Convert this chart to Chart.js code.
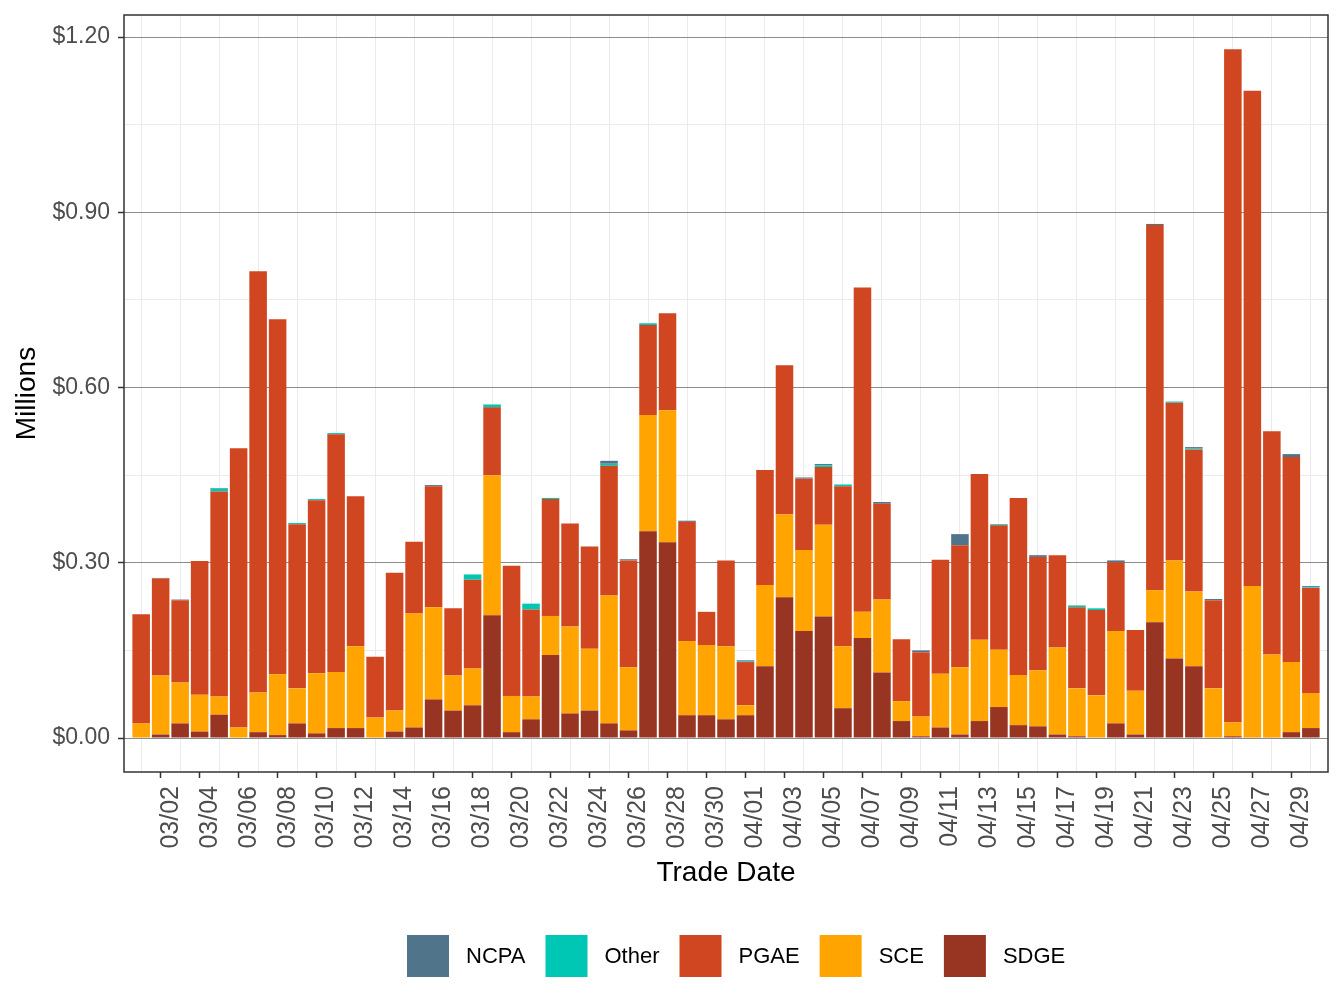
<!DOCTYPE html>
<html>
<head>
<meta charset="utf-8">
<title>Trade Date - Millions</title>
<script src="https://cdn.jsdelivr.net/npm/chart.js@4.4.1/dist/chart.umd.min.js"></script>
<style>
  html, body { margin: 0; padding: 0; background: #fff; }
  #wrap { width: 1344px; height: 1008px; position: relative; }
</style>
</head>
<body>
<div id="wrap"><canvas id="chart"></canvas></div>
<script>
// --- DATA (millions of $) ---
const dateLabels = [
  '03/01','03/02','03/03','03/04','03/05','03/06','03/07','03/08','03/09','03/10',
  '03/11','03/12','03/13','03/14','03/15','03/16','03/17','03/18','03/19','03/20',
  '03/21','03/22','03/23','03/24','03/25','03/26','03/27','03/28','03/29','03/30',
  '03/31','04/01','04/02','04/03','04/04','04/05','04/06','04/07','04/08','04/09',
  '04/10','04/11','04/12','04/13','04/14','04/15','04/16','04/17','04/18','04/19',
  '04/20','04/21','04/22','04/23','04/24','04/25','04/26','04/27','04/28','04/29',
  '04/30'
];

const sdge = [
  0.000, 0.006, 0.025, 0.011, 0.040, 0.000, 0.010, 0.005, 0.025, 0.008,
  0.017, 0.017, 0.000, 0.011, 0.018, 0.066, 0.047, 0.056, 0.210, 0.010,
  0.032, 0.142, 0.042, 0.047, 0.025, 0.013, 0.354, 0.335, 0.039, 0.039,
  0.032, 0.039, 0.123, 0.241, 0.183, 0.208, 0.051, 0.171, 0.112, 0.029,
  0.003, 0.018, 0.006, 0.029, 0.053, 0.022, 0.020, 0.006, 0.003, 0.001,
  0.025, 0.006, 0.198, 0.136, 0.123, 0.000, 0.003, 0.001, 0.001, 0.010,
  0.017
];
const sce = [
  0.025, 0.101, 0.070, 0.063, 0.031, 0.018, 0.068, 0.104, 0.060, 0.103,
  0.096, 0.140, 0.035, 0.036, 0.195, 0.158, 0.060, 0.063, 0.240, 0.062,
  0.039, 0.067, 0.149, 0.106, 0.219, 0.108, 0.199, 0.226, 0.127, 0.120,
  0.125, 0.017, 0.139, 0.142, 0.139, 0.157, 0.106, 0.045, 0.125, 0.034,
  0.034, 0.092, 0.115, 0.139, 0.098, 0.086, 0.096, 0.149, 0.082, 0.072,
  0.158, 0.075, 0.055, 0.168, 0.128, 0.085, 0.024, 0.259, 0.142, 0.120,
  0.060
];
const pgae = [
  0.187, 0.166, 0.141, 0.229, 0.351, 0.478, 0.721, 0.608, 0.281, 0.296,
  0.407, 0.257, 0.104, 0.236, 0.123, 0.207, 0.115, 0.152, 0.116, 0.223,
  0.149, 0.200, 0.176, 0.175, 0.222, 0.183, 0.154, 0.166, 0.204, 0.057,
  0.147, 0.074, 0.197, 0.255, 0.122, 0.099, 0.274, 0.555, 0.164, 0.106,
  0.110, 0.195, 0.209, 0.284, 0.213, 0.303, 0.194, 0.158, 0.139, 0.146,
  0.118, 0.104, 0.625, 0.270, 0.243, 0.151, 1.152, 0.848, 0.382, 0.351,
  0.180
];
const other = [
  0.000, 0.000, 0.000, 0.000, 0.005, 0.000, 0.000, 0.000, 0.002, 0.002,
  0.002, 0.000, 0.000, 0.000, 0.000, 0.000, 0.000, 0.009, 0.005, 0.000,
  0.010, 0.002, 0.000, 0.000, 0.0035, 0.000, 0.003, 0.000, 0.000, 0.000,
  0.000, 0.001, 0.000, 0.000, 0.000, 0.003, 0.003, 0.000, 0.000, 0.000,
  0.000, 0.000, 0.000, 0.000, 0.002, 0.000, 0.000, 0.000, 0.003, 0.003,
  0.000, 0.000, 0.000, 0.002, 0.002, 0.000, 0.000, 0.000, 0.000, 0.000,
  0.001
];
const ncpa = [
  0.000, 0.001, 0.001, 0.000, 0.001, 0.000, 0.000, 0.000, 0.000, 0.000,
  0.000, 0.000, 0.000, 0.000, 0.000, 0.002, 0.000, 0.000, 0.000, 0.000,
  0.000, 0.000, 0.000, 0.000, 0.005, 0.002, 0.000, 0.000, 0.002, 0.000,
  0.000, 0.002, 0.000, 0.000, 0.002, 0.002, 0.000, 0.000, 0.003, 0.000,
  0.003, 0.000, 0.019, 0.000, 0.000, 0.000, 0.003, 0.000, 0.000, 0.000,
  0.003, 0.000, 0.002, 0.000, 0.002, 0.002, 0.000, 0.000, 0.000, 0.005,
  0.002
];

const yTicks = [0, 0.3, 0.6, 0.9, 1.2];          // labelled
const yMinorTicks = [0.15, 0.45, 0.75, 1.05];    // light grid only

// --- STYLE ---
const FONT = '"Liberation Sans", Arial, Helvetica, sans-serif';
const COLORS = { NCPA: '#50758a', Other: '#00c6b4', PGAE: '#d04620', SCE: '#ffa400', SDGE: '#973522' };

Chart.defaults.font.family = FONT;

// bottom of the stack first
const series = [
  { name: 'SDGE', values: sdge },
  { name: 'SCE', values: sce },
  { name: 'PGAE', values: pgae },
  { name: 'Other', values: other },
  { name: 'NCPA', values: ncpa }
];

const isMajorY = v => yTicks.some(t => Math.abs(t - v) < 1e-9);

// marco del panel (estilo theme_bw)
const panelBorder = {
  id: 'panelBorder',
  afterDatasetsDraw(chart) {
    const { ctx, chartArea: a } = chart;
    ctx.save();
    ctx.strokeStyle = '#333333';
    ctx.lineWidth = 1.5;
    ctx.strokeRect(a.left, a.top, a.width, a.height);
    ctx.restore();
  }
};

// leyenda inferior: NCPA, Other, PGAE, SCE, SDGE
const bottomLegend = {
  id: 'bottomLegend',
  afterDraw(chart) {
    const ctx = chart.ctx;
    const box = 42, gapText = 17, gapItem = 20;
    let x = 407;
    const top = 935;
    ctx.save();
    ctx.font = '22px ' + FONT;
    ctx.textBaseline = 'middle';
    ctx.textAlign = 'left';
    chart.data.datasets.slice().reverse().forEach(ds => {
      ctx.fillStyle = ds.backgroundColor;
      ctx.fillRect(x, top, box, box);
      x += box + gapText;
      ctx.fillStyle = '#000';
      ctx.fillText(ds.label, x, top + box / 2 + 1);
      x += ctx.measureText(ds.label).width + gapItem;
    });
    ctx.restore();
  }
};

new Chart(document.getElementById('chart'), {
  type: 'bar',
  data: {
    datasets: series.map(s => ({
      label: s.name,
      data: s.values.map((v, i) => ({ x: i, y: v })),
      backgroundColor: COLORS[s.name],
      borderWidth: 0,
      barPercentage: 0.9,
      categoryPercentage: 1.0
    }))
  },
  options: {
    responsive: true,
    maintainAspectRatio: false,
    animation: false,
    layout: { padding: { top: 15, right: 16, left: 0, bottom: 0 } },
    plugins: {
      legend: { display: false },
      tooltip: { enabled: true }
    },
    scales: {
      x: {
        type: 'linear',
        stacked: true,
        offset: false,
        min: -0.88,
        max: 60.88,
        afterBuildTicks: s => { s.ticks = dateLabels.map((d, i) => ({ value: i })); },
        afterFit: s => { s.height = 236; s.paddingLeft = 0; s.paddingRight = 0; },
        border: { display: false },
        grid: {
          offset: false,
          lineWidth: 1,
          color: c => (c.tick && c.tick.value % 2 === 0) ? '#ebebeb' : 'rgba(0,0,0,0)',
          tickColor: c => (c.tick && c.tick.value % 2 === 1) ? '#333333' : 'rgba(0,0,0,0)',
          tickLength: 6,
          tickWidth: 1.5
        },
        ticks: {
          autoSkip: false,
          minRotation: 90,
          maxRotation: 90,
          labelOffset: 10,
          padding: 8,
          color: '#4d4d4d',
          font: { size: 25 },
          callback: v => (v % 2 === 1) ? dateLabels[v] : ''
        },
        title: {
          display: true,
          text: 'Trade Date',
          color: '#000',
          font: { size: 28, lineHeight: 1 },
          padding: { top: 0, bottom: 121 }
        }
      },
      y: {
        stacked: true,
        min: -0.0582,
        max: 1.2377,
        afterBuildTicks: s => {
          s.ticks = yTicks.concat(yMinorTicks).sort((a, b) => a - b).map(v => ({ value: v }));
        },
        afterFit: s => { s.width = 124; s.paddingTop = 0; s.paddingBottom = 0; },
        border: { display: false },
        grid: {
          lineWidth: 1,
          color: c => isMajorY(c.tick.value) ? '#8c8c8c' : '#ebebeb',
          tickColor: c => isMajorY(c.tick.value) ? '#333333' : 'rgba(0,0,0,0)',
          tickLength: 6,
          tickWidth: 1.5
        },
        ticks: {
          padding: 8,
          color: '#4d4d4d',
          font: { size: 23 },
          callback: v => isMajorY(v) ? '$' + v.toFixed(2) : ''
        },
        title: {
          display: true,
          text: 'Millions',
          color: '#000',
          font: { size: 28, lineHeight: 1 },
          padding: { top: 13, bottom: 0 }
        }
      }
    }
  },
  plugins: [panelBorder, bottomLegend]
});
</script>
</body>
</html>
